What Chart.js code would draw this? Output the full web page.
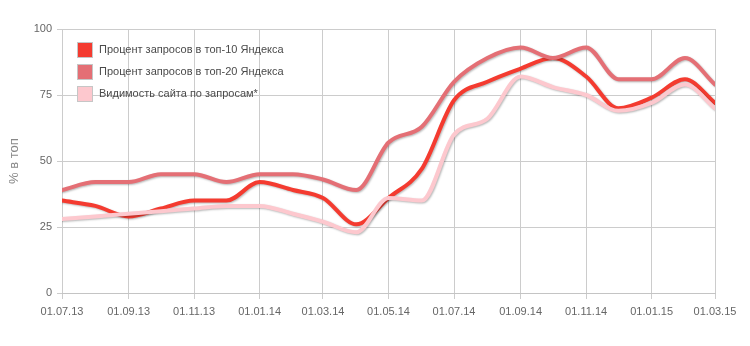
<!DOCTYPE html>
<html>
<head>
<meta charset="utf-8">
<script src="https://cdn.jsdelivr.net/npm/chart.js@4/dist/chart.umd.min.js"></script>
<style>
  html, body { margin: 0; padding: 0; background: #fff; }
  #wrap { width: 750px; height: 346px; }
</style>
</head>
<body>
<div id="wrap"><canvas id="chart" width="750" height="346"></canvas></div>
<script>
// Monthly observations (first day of each month)
const months = [
  '2013-07-01','2013-08-01','2013-09-01','2013-10-01','2013-11-01','2013-12-01',
  '2014-01-01','2014-02-01','2014-03-01','2014-04-01','2014-05-01','2014-06-01',
  '2014-07-01','2014-08-01','2014-09-01','2014-10-01','2014-11-01','2014-12-01',
  '2015-01-01','2015-02-01','2015-03-01'
];

// Share of queries in Yandex top-10, %
const top10 = [35, 33, 29, 32, 35, 35, 42, 39, 36, 26, 36, 47, 73, 80, 85, 89, 82, 70, 74, 81, 72];
// Share of queries in Yandex top-20, %
const top20 = [39, 42, 42, 45, 45, 42, 45, 45, 43, 39, 57, 63, 80, 89, 93, 89, 93, 81, 81, 89, 79];
// Site visibility, %
const visibility = [28, 29, 30, 31, 32, 33, 33, 30, 27, 23, 36, 35, 60, 66, 82, 78, 75, 69, 72, 79, 70];

const seriesNames = [
  'Процент запросов в топ-10 Яндекса',
  'Процент запросов в топ-20 Яндекса',
  'Видимость сайта по запросам*'
];

// Axis ticks
const tickDates = [
  '2013-07-01','2013-09-01','2013-11-01','2014-01-01','2014-03-01','2014-05-01',
  '2014-07-01','2014-09-01','2014-11-01','2015-01-01','2015-03-01'
];
const tickLabels = [
  '01.07.13','01.09.13','01.11.13','01.01.14','01.03.14','01.05.14',
  '01.07.14','01.09.14','01.11.14','01.01.15','01.03.15'
];
const yTicks = [0, 25, 50, 75, 100];
const yTitle = '% в топ';

// date string -> day number (linear time axis)
function dayNum(s) {
  const [y, m, d] = s.split('-').map(Number);
  return Date.UTC(y, m - 1, d) / 86400000;
}
const toPoints = vals => months.map((m, i) => ({ x: dayNum(m), y: vals[i] }));

const colors = ['#f43b30', '#e46f75', '#fdc8ce'];
const FONT = '"Liberation Sans", Arial, sans-serif';

// soft drop shadow under every line
const shadowPlugin = {
  id: 'lineShadow',
  beforeDatasetDraw(chart) {
    const ctx = chart.ctx;
    ctx.save();
    ctx.shadowColor = 'rgba(0,0,0,0.28)';
    ctx.shadowOffsetX = 1;
    ctx.shadowOffsetY = 1;
    ctx.shadowBlur = 2;
  },
  afterDatasetDraw(chart) {
    chart.ctx.restore();
  }
};

// legend placed inside the plot, top-left
const insideLegend = {
  id: 'insideLegend',
  afterDraw(chart) {
    const ctx = chart.ctx;
    ctx.save();
    chart.data.datasets.forEach((ds, i) => {
      const cy = 49.5 + i * 22.2;
      const top = Math.round(cy - 7);
      ctx.fillStyle = ds.borderColor;
      ctx.fillRect(78, top, 14, 14);
      ctx.strokeStyle = '#c6c6c6';
      ctx.lineWidth = 1;
      ctx.strokeRect(77.5, top - 0.5, 15, 15);
      ctx.fillStyle = '#4a4a4a';
      ctx.font = '11px ' + FONT;
      ctx.textBaseline = 'middle';
      ctx.textAlign = 'left';
      ctx.fillText(ds.label, 99, top + 7);
    });
    ctx.restore();
  }
};

const common = {
  fill: false,
  borderWidth: 4,
  pointRadius: 0,
  pointHoverRadius: 0,
  cubicInterpolationMode: 'monotone',
  borderCapStyle: 'round',
  borderJoinStyle: 'round'
};

new Chart(document.getElementById('chart'), {
  type: 'line',
  data: {
    datasets: [
      Object.assign({ label: seriesNames[0], data: toPoints(top10), borderColor: colors[0], backgroundColor: colors[0], order: 2 }, common),
      Object.assign({ label: seriesNames[1], data: toPoints(top20), borderColor: colors[1], backgroundColor: colors[1], order: 1 }, common),
      Object.assign({ label: seriesNames[2], data: toPoints(visibility), borderColor: colors[2], backgroundColor: colors[2], order: 0 }, common)
    ]
  },
  options: {
    responsive: false,
    devicePixelRatio: 1,
    animation: false,
    layout: { padding: { top: 29, right: 35, left: 0, bottom: 0 } },
    plugins: {
      legend: { display: false },
      tooltip: { enabled: false }
    },
    scales: {
      x: {
        type: 'linear',
        min: dayNum(tickDates[0]),
        max: dayNum(tickDates[tickDates.length - 1]),
        afterBuildTicks(scale) {
          scale.ticks = tickDates.map(d => ({ value: dayNum(d) }));
        },
        afterFit(scale) { scale.height = 53; },
        ticks: {
          autoSkip: false,
          maxRotation: 0,
          minRotation: 0,
          padding: 6,
          color: '#666',
          font: { family: FONT, size: 11 },
          callback: (value, index) => tickLabels[index]
        },
        grid: { color: '#cccccc', lineWidth: 1, tickLength: 6, drawTicks: true },
        border: { display: true, color: '#c4c4c4', width: 1 }
      },
      y: {
        min: 0,
        max: 100,
        afterBuildTicks(scale) {
          scale.ticks = yTicks.map(v => ({ value: v }));
        },
        afterFit(scale) { scale.width = 62; },
        ticks: {
          padding: 5,
          color: '#666',
          font: { family: FONT, size: 11 },
          callback: v => String(v)
        },
        grid: { color: '#cccccc', lineWidth: 1, tickLength: 5, drawTicks: true },
        border: { display: false },
        title: {
          display: true,
          text: yTitle,
          color: '#888',
          font: { family: FONT, size: 13 },
          padding: { top: 7, bottom: 0 }
        }
      }
    }
  },
  plugins: [shadowPlugin, insideLegend]
});
</script>
</body>
</html>
